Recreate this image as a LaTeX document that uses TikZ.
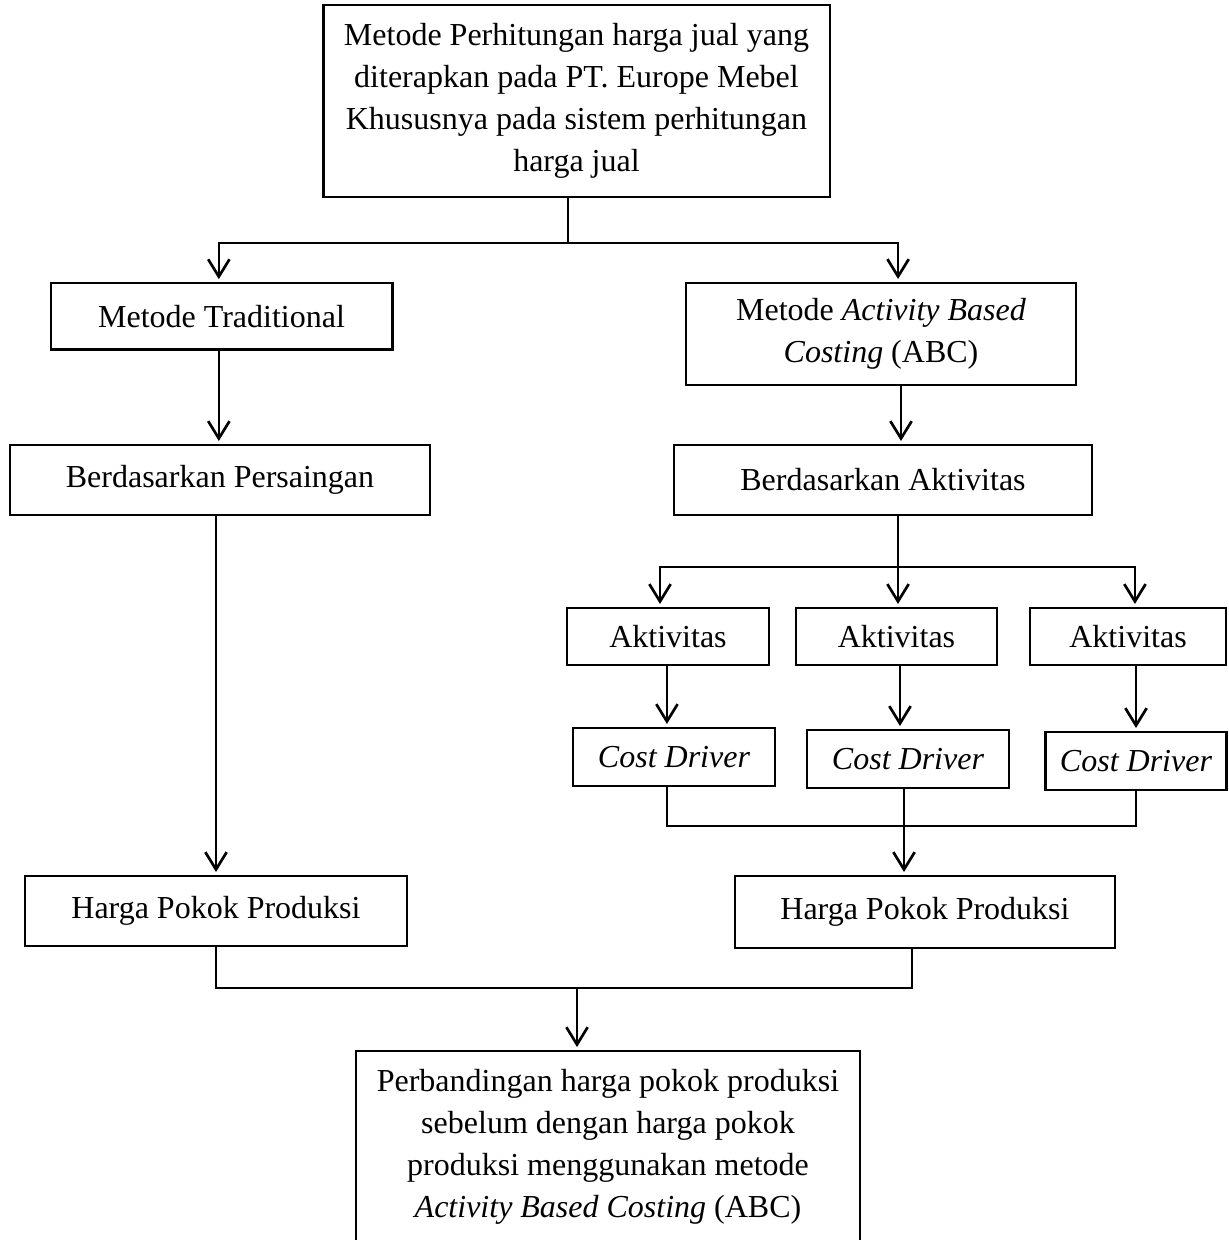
\documentclass[tikz,border=0pt]{standalone}
\usepackage{fontspec}
\setmainfont{Liberation Serif}
\usetikzlibrary{arrows.meta}

\tikzset{
	kotak/.style={draw, line width=1pt, align=center, inner sep=0pt, font=\fontsize{12}{15.75}\selectfont},
	panah/.style={line width=1pt, -{Straight Barb[length=6.5pt,width=8pt]}, shorten >=1pt},
	garis/.style={line width=1pt}
}

\begin{document}
\begin{tikzpicture}[x=0.375pt, y=-0.375pt]
	\useasboundingbox (0,0) rectangle (1228,1240);
	
	% Kasten oben
	\node[kotak, minimum width=190pt, minimum height=72pt] (metode) at (576.5,101) {Metode Perhitungan harga jual yang\\diterapkan pada PT. Europe Mebel\\Khususnya pada sistem perhitungan\\harga jual};
	
	% Linke Spalte
	\node[kotak, minimum width=128pt, minimum height=25pt] (trad) at (221.5,316.5) {Metode Traditional};
	\node[kotak, minimum width=157.5pt, minimum height=26.25pt] (saing) at (220,480) {Berdasarkan Persaingan};
	\node[kotak, minimum width=143.25pt, minimum height=26.25pt] (hpp1) at (216,911) {Harga Pokok Produksi};
	
	% Rechte Spalte
	\node[kotak, minimum width=146.25pt, minimum height=38.25pt] (abc) at (881,334) {Metode \textit{Activity Based}\\\textit{Costing} (ABC)};
	\node[kotak, minimum width=156.75pt, minimum height=26.25pt] (aktv) at (883,480) {Berdasarkan Aktivitas};
	\node[kotak, minimum width=142.5pt, minimum height=27pt] (hpp2) at (925,912) {Harga Pokok Produksi};
	
	% Aktivitas und Cost Driver
	\foreach \i/\xa/\wa/\xc/\yc/\wc in {1/668/75.75/674/757/75.75, 2/896.5/75.4/908/759/75.75, 3/1128/73.5/1136/761/68} {
		\node[kotak, minimum width=\wa pt, minimum height=21.4pt] (a\i) at (\xa,636.5) {Aktivitas};
		\node[kotak, minimum width=\wc pt, minimum height=21.75pt] (cd\i) at (\xc,\yc) {\textit{Cost Driver}};
	}
	\draw[panah] ([xshift=-0.4pt]a1.south) -- ([xshift=-0.4pt]a1.south |- cd1.north);
	\draw[panah] ([xshift=1.3pt]a2.south) -- ([xshift=1.3pt]a2.south |- cd2.north);
	\draw[panah] (cd3.north |- a3.south) -- (cd3.north);
	
	% Kasten unten
	\node[kotak, minimum width=189pt, minimum height=71.6pt] (banding) at (608,1146.5) {Perbandingan harga pokok produksi\\sebelum dengan harga pokok\\produksi menggunakan metode\\\textit{Activity Based Costing} (ABC)};
	
	% Verzweigung oben
	\coordinate (s1) at (568,243);
	\draw[garis] (metode.south -| s1) -- (s1);
	\draw[panah] (s1) -| ([xshift=-1pt]trad.north);
	\draw[panah] (s1) -| ([xshift=6.4pt]abc.north);
	
	% Pfeile in den Spalten
	\draw[panah] ([xshift=-1pt]trad.south) -- ([xshift=-1pt]trad.south |- saing.north);
	\draw[panah] ([xshift=7.5pt]abc.south) -- ([xshift=7.5pt]abc.south |- aktv.north);
	\draw[panah] (hpp1.north |- saing.south) -- (hpp1.north);
	
	% Verzweigung zu den Aktivitas
	\coordinate (s2) at (898,567);
	\draw[garis] (aktv.south -| s2) -- (s2);
	\draw[panah] (s2) -| ([xshift=-3pt]a1.north);
	\draw[panah] (s2) -- (s2 |- a2.north);
	\draw[panah] (s2) -| ([xshift=2.6pt]a3.north);
	
	% Zusammenfuehrung der Cost Driver
	\coordinate (j1) at (904,826);
	\draw[garis] ([xshift=-2.6pt]cd1.south) |- (j1) -| (cd3.south);
	\draw[panah] ([xshift=-1.5pt]cd2.south) -- ([xshift=-1.5pt]cd2.south |- hpp2.north);
	
	% Zusammenfuehrung unten
	\coordinate (j2) at (577,988);
	\draw[garis] (hpp1.south) |- (j2) -| ([xshift=-4.9pt]hpp2.south);
	\draw[panah] (j2) -- (j2 |- banding.north);
\end{tikzpicture}
\end{document}
